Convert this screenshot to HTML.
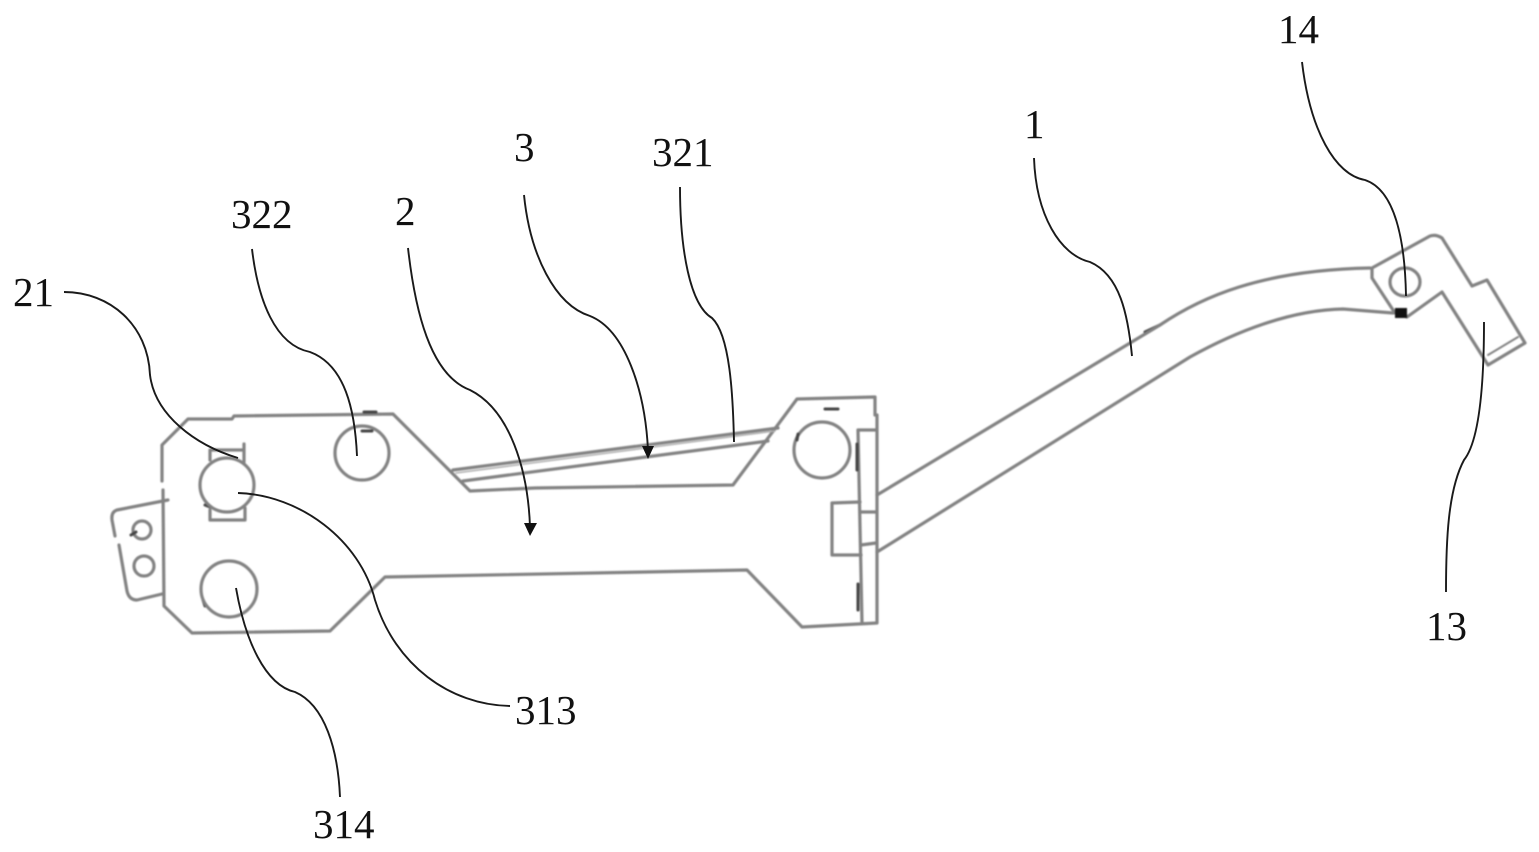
<!DOCTYPE html>
<html>
<head>
<meta charset="utf-8">
<style>
html,body{margin:0;padding:0;background:#fff;width:1539px;height:852px;overflow:hidden}
svg{display:block}
text{font-family:"Liberation Serif",serif;font-size:41px;fill:#111}
.b{filter:blur(0.7px)}
.g{fill:none;stroke:#828282;stroke-width:3.2;stroke-linejoin:round;stroke-linecap:round}
.d{fill:none;stroke:#444;stroke-width:3;stroke-linecap:round}
.k{fill:none;stroke:#1a1a1a;stroke-width:1.9}
</style>
</head>
<body>
<svg width="1539" height="852" viewBox="0 0 1539 852">
<g class="b">
<!-- body outline -->
<path class="g" d="M162 481 L162 445 L188 419 L232 419 L234 416 L393 414 L470 491 L535 488 L733 485 L797 399 L875 397 L875 415 M877 415 L877 623 L802 627 L747 570 L385 577 L330 631 L192 633 L164 606 L163 490"/>
<!-- channel lines -->
<path class="g" d="M453 470 L778 428"/>
<path class="g" d="M456 473 L775 431" style="stroke-width:1.5;stroke:#b0b0b0"/>
<path class="g" d="M463 481 L768 441"/>
<!-- left tab -->
<path class="g" d="M168 500 L117 510 Q111 512 112 520 L115 536 M119 545 L127 591 Q129 600 137 600 L162 594"/>
<circle class="g" cx="142" cy="530" r="9"/>
<circle class="g" cx="144" cy="566" r="10"/>
<path class="d" d="M131 535 L136 532 M203 600 L205 606 M205 505 L210 507" style="stroke-width:3"/>
<!-- holes -->
<circle class="g" cx="362" cy="453" r="27"/>
<circle class="g" cx="227" cy="485" r="27"/>
<circle class="g" cx="229" cy="589" r="28"/>
<circle class="g" cx="822" cy="450" r="28"/>
<path class="g" d="M210 460 V450 H244 M244 444 V462 M210 510 V520 H245 V508"/>
<path class="d" d="M364 412 H376 M362 431 H372 M825 409 H838 M798 434 L797 440 M1145 332 L1160 325"/>
<!-- right plate -->
<path class="g" d="M875 430 H858 L862 623"/>
<path class="g" d="M860 502 L832 503 V555 H861 M860 512 H876 M861 545 L876 543"/>
<path class="d" d="M857 444 V470 M858 584 V610"/>
<!-- arm -->
<path class="g" d="M877 495 L1160 325 C1200 298 1260 270 1370 268"/>
<path class="g" d="M877 552 L1190 357 C1235 332 1290 310 1343 309 L1393 313"/>
<!-- head -->
<path class="g" d="M1372 268 L1372 278 L1395 313 L1407 317 L1442 292 L1488 365 L1525 343 L1487 280 L1472 286 L1442 238 Q1436 234 1430 236 Z"/>
<path class="g" d="M1488 355 L1518 337" style="stroke-width:2"/>
<ellipse class="g" cx="1405" cy="282" rx="15" ry="14"/>
<rect x="1395" y="308" width="12" height="10" fill="#111"/>
</g>
<!-- leaders -->
<path class="k" d="M1302 62 C1310 130 1335 175 1365 180 C1395 190 1405 240 1406 296"/>
<path class="k" d="M1034 158 C1036 215 1060 255 1090 262 C1120 275 1128 315 1132 356"/>
<path class="k" d="M680 187 C680 250 690 305 712 318 C730 335 733 395 734 442"/>
<path class="k" d="M524 195 C530 255 555 305 590 316 C625 330 645 390 648 450"/>
<path class="k" d="M408 248 C415 310 430 375 470 390 C510 410 528 470 530 527"/>
<path class="k" d="M252 249 C258 300 275 345 310 352 C345 365 355 410 357 456"/>
<path class="k" d="M64 292 C110 292 148 325 150 375 C155 415 195 445 238 458"/>
<path class="k" d="M238 493 C300 495 360 540 375 600 C395 665 450 705 510 706"/>
<path class="k" d="M236 588 C245 640 265 685 295 692 C325 705 338 750 340 797"/>
<path class="k" d="M1484 322 C1484 380 1480 440 1464 460 C1448 490 1446 540 1446 592"/>
<path d="M642 446 L654 446 L648 459 Z M524 523 L537 523 L530 536 Z" fill="#111"/>
<!-- labels -->
<text x="1278" y="43">14</text>
<text x="1024" y="138">1</text>
<text x="514" y="161">3</text>
<text x="652" y="166">321</text>
<text x="231" y="228">322</text>
<text x="395" y="225">2</text>
<text x="13" y="306">21</text>
<text x="1426" y="640">13</text>
<text x="515" y="724">313</text>
<text x="313" y="838">314</text>
</svg>
</body>
</html>
